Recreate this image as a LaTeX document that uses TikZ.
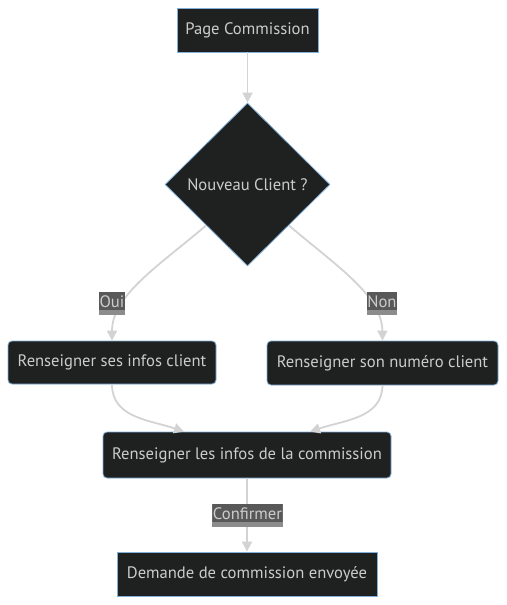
\documentclass[tikz,border=0pt]{standalone}
\usepackage{fontspec}
\setmainfont{PT Sans}
\usetikzlibrary{shapes.geometric,arrows.meta}
\definecolor{nodefill}{HTML}{1F2020}
\definecolor{nodeborder}{HTML}{81B1DB}
\definecolor{txt}{HTML}{CCCCCC}
\definecolor{edge}{HTML}{D3D3D3}
\definecolor{lbltop}{HTML}{585858}
\definecolor{lblbot}{HTML}{8C8C8C}
\newcommand{\lbltext}[1]{\raisebox{2pt}[\height][\depth]{#1}}
\tikzset{
  base/.style={draw=nodeborder, line width=0.8pt, fill=nodefill, text=txt, inner sep=0pt,
    font=\fontsize{16.6}{19}\selectfont},
  boxsq/.style={base, rectangle},
  boxrd/.style={base, rectangle, rounded corners=4pt},
  decision/.style={base, diamond, minimum width=165pt, minimum height=163pt},
  conn/.style={draw=edge, line width=1.8pt, -{Triangle[length=10pt,width=10pt]}},
  lbl/.style={fill=lblbot, text=txt, inner sep=0pt, minimum height=23pt, inner xsep=0.5pt,
    font=\fontsize{16.6}{19}\selectfont,
    path picture={\fill[lbltop] (path picture bounding box.north west) rectangle ([yshift=5pt]path picture bounding box.south east);}},
}
\begin{document}
\begin{tikzpicture}[x=1pt,y=-1pt]
\useasboundingbox (0,0) rectangle (506,605);
\node[boxsq, minimum width=141pt, minimum height=44pt] (A) at (247.5,30) {Page Commission};
\node[decision] (B) at (247.5,184.5) {Nouveau Client ?};
\node[boxrd, minimum width=208pt, minimum height=43pt] (C) at (112,362.5) {Renseigner ses infos client};
\node[boxrd, minimum width=231pt, minimum height=44pt] (D) at (382.5,363) {Renseigner son numéro client};
\node[boxrd, minimum width=288pt, minimum height=46pt] (E) at (247,455) {Renseigner les infos de la commission};
\node[boxsq, minimum width=260pt, minimum height=44pt] (F) at (247,574) {Demande de commission envoyée};
\coordinate (EL) at ([xshift=-63pt]E.north);
\coordinate (ER) at ([xshift=63pt]E.north);
\draw[conn] (A.south) -- (B.north);
\draw[conn] (B.south west) .. controls (160,265) and (112,295) .. (C.north);
\draw[conn] (B.south east) .. controls (335,265) and (382,295) .. (D.north);
\draw[conn] (C.south) .. controls (112,418) and (150,420) .. (EL);
\draw[conn] (D.south) .. controls (382,418) and (345,420) .. (ER);
\draw[conn] (E.south) -- (F.north);
\node[lbl] (L1) at (112,303.5) {\lbltext{Oui}};
\node[lbl] (L2) at (382,303.5) {\lbltext{Non}};
\node[lbl] (L3) at (247.5,515.5) {\lbltext{Confirmer}};
\end{tikzpicture}
\end{document}
